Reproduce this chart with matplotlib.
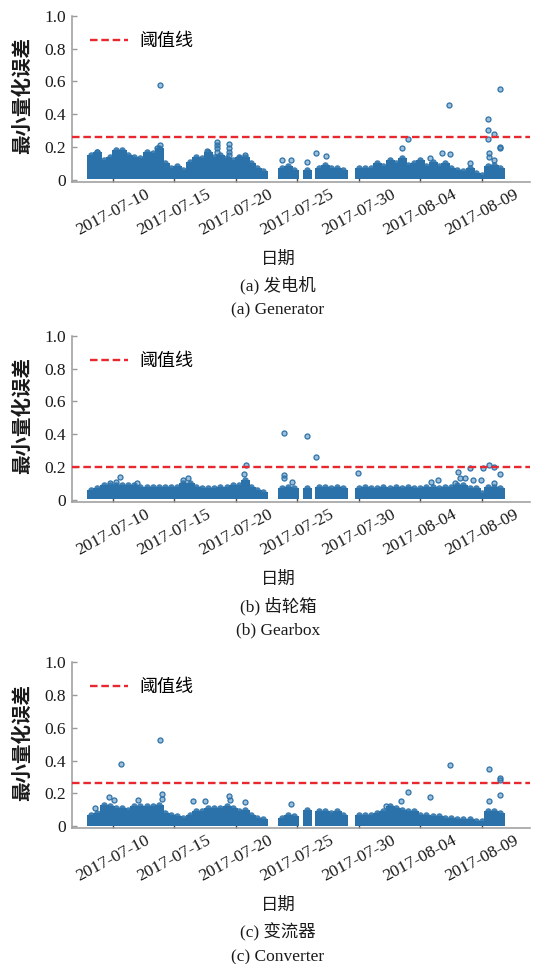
import pandas as pd
import matplotlib
matplotlib.use("Agg")
import matplotlib.pyplot as plt
import matplotlib.dates as mdates
from matplotlib.ticker import FixedLocator, FixedFormatter

plt.rcParams["font.family"] = ["Liberation Serif", "Noto Sans CJK SC"]

# ---------------------------------------------------------------------------
# Upper edge of the dense error band, one value every 12 hours, per block of
# continuous recording: (block start, [values ...])
# ---------------------------------------------------------------------------
gen_blocks = [
    ("2017-07-08 06:00", [0.15, 0.17, 0.12, 0.14, 0.18, 0.18, 0.15, 0.14, 0.13, 0.17,
                          0.16, 0.19, 0.10, 0.07, 0.08, 0.06, 0.11, 0.14, 0.13, 0.17,
                          0.14, 0.15, 0.13, 0.12, 0.14, 0.14, 0.10, 0.07, 0.05]),
    ("2017-07-23 18:00", [0.07, 0.08, 0.06]),
    ("2017-07-25 18:00", [0.06]),
    ("2017-07-26 18:00", [0.07, 0.09, 0.07, 0.07, 0.06]),
    ("2017-07-30 00:00", [0.07, 0.07, 0.07, 0.10, 0.08, 0.12, 0.10, 0.13, 0.09, 0.10,
                          0.12, 0.08, 0.11, 0.08, 0.10, 0.07, 0.06, 0.05, 0.07, 0.04,
                          0.03, 0.08, 0.09, 0.07]),
]
gen_out_t = ["2017-07-08 18:00", "2017-07-13 14:00", "2017-07-13 20:00", "2017-07-13 21:00",
             "2017-07-17 15:00", "2017-07-18 12:00", "2017-07-18 12:00", "2017-07-18 12:00",
             "2017-07-18 12:00", "2017-07-19 11:00", "2017-07-19 11:00", "2017-07-19 11:00",
             "2017-07-19 11:00", "2017-07-20 07:00", "2017-07-20 18:00", "2017-07-23 19:00",
             "2017-07-24 12:00", "2017-07-25 19:00", "2017-07-26 12:00", "2017-07-27 08:00",
             "2017-08-02 12:00", "2017-08-03 00:00", "2017-08-04 19:00", "2017-08-05 18:00",
             "2017-08-06 07:00", "2017-08-06 09:00", "2017-08-08 00:00", "2017-08-09 12:00",
             "2017-08-09 12:00", "2017-08-09 12:00", "2017-08-09 14:00", "2017-08-09 14:00",
             "2017-08-09 23:00", "2017-08-09 23:00", "2017-08-10 11:00", "2017-08-10 11:00",
             "2017-08-10 11:00"]
gen_out_v = [0.17, 0.19, 0.21, 0.575,
             0.175, 0.23, 0.21, 0.19,
             0.17, 0.22, 0.195, 0.17,
             0.15, 0.13, 0.15, 0.12,
             0.12, 0.11, 0.16, 0.145,
             0.195, 0.25, 0.13, 0.165,
             0.455, 0.155, 0.10, 0.37,
             0.30, 0.25, 0.16, 0.14,
             0.28, 0.12, 0.555, 0.20,
             0.19]
gen_threshold = 0.26

gear_blocks = [
    ("2017-07-08 06:00", [0.06, 0.07, 0.09, 0.09, 0.09, 0.09, 0.09, 0.09, 0.08, 0.08,
                          0.08, 0.08, 0.08, 0.08, 0.08, 0.10, 0.10, 0.08, 0.07, 0.07,
                          0.07, 0.08, 0.08, 0.09, 0.09, 0.12, 0.08, 0.06, 0.05]),
    ("2017-07-23 18:00", [0.07, 0.08, 0.07]),
    ("2017-07-25 18:00", [0.07]),
    ("2017-07-26 18:00", [0.08, 0.08, 0.07, 0.08, 0.07]),
    ("2017-07-30 00:00", [0.07, 0.08, 0.07, 0.07, 0.08, 0.07, 0.08, 0.07, 0.08, 0.07,
                          0.07, 0.08, 0.08, 0.07, 0.08, 0.08, 0.09, 0.09, 0.07, 0.07,
                          0.04, 0.08, 0.08, 0.07]),
]
gear_out_t = ["2017-07-23 22:00", "2017-07-23 22:00", "2017-07-23 22:00", "2017-07-25 18:00",
              "2017-07-26 12:00", "2017-07-24 14:00", "2017-07-29 22:00", "2017-07-09 19:00",
              "2017-07-10 07:00", "2017-07-10 14:00", "2017-07-12 00:00", "2017-07-15 17:00",
              "2017-07-16 02:00", "2017-07-20 17:00", "2017-07-20 20:00", "2017-08-04 21:00",
              "2017-08-05 10:00", "2017-08-06 19:00", "2017-08-07 02:00", "2017-08-07 05:00",
              "2017-08-07 16:00", "2017-08-08 00:00", "2017-08-08 07:00", "2017-08-08 22:00",
              "2017-08-09 02:00", "2017-08-09 14:00", "2017-08-09 23:00", "2017-08-09 23:00",
              "2017-08-10 12:00"]
gear_out_v = [0.405, 0.15, 0.13, 0.39,
              0.26, 0.11, 0.165, 0.10,
              0.11, 0.14, 0.10, 0.12,
              0.13, 0.16, 0.215, 0.11,
              0.12, 0.10, 0.17, 0.13,
              0.13, 0.195, 0.12, 0.12,
              0.195, 0.21, 0.20, 0.10,
              0.16]
gear_threshold = 0.20

conv_blocks = [
    ("2017-07-08 06:00", [0.07, 0.08, 0.13, 0.12, 0.11, 0.11, 0.10, 0.12, 0.12, 0.12,
                          0.12, 0.13, 0.08, 0.07, 0.06, 0.05, 0.07, 0.09, 0.09, 0.11,
                          0.11, 0.11, 0.12, 0.11, 0.09, 0.10, 0.07, 0.05, 0.04]),
    ("2017-07-23 18:00", [0.05, 0.07, 0.06]),
    ("2017-07-25 18:00", [0.10]),
    ("2017-07-26 18:00", [0.09, 0.09, 0.08, 0.09, 0.07]),
    ("2017-07-30 00:00", [0.07, 0.07, 0.07, 0.08, 0.09, 0.12, 0.11, 0.10, 0.09, 0.09,
                          0.07, 0.07, 0.06, 0.06, 0.05, 0.05, 0.04, 0.04, 0.04, 0.03,
                          0.03, 0.09, 0.09, 0.08]),
]
conv_out_t = ["2017-07-08 13:00", "2017-07-09 17:00", "2017-07-10 02:00", "2017-07-10 17:00",
              "2017-07-12 02:00", "2017-07-13 20:00", "2017-07-14 00:00", "2017-07-14 00:00",
              "2017-07-16 12:00", "2017-07-17 12:00", "2017-07-19 10:00", "2017-07-19 13:00",
              "2017-07-20 18:00", "2017-07-24 12:00", "2017-08-01 05:00", "2017-08-02 11:00",
              "2017-08-03 00:00", "2017-08-04 18:00", "2017-08-06 09:00", "2017-08-09 14:00",
              "2017-08-09 14:00", "2017-08-10 11:00", "2017-08-10 11:00", "2017-08-10 11:00"]
conv_out_v = [0.11, 0.18, 0.16, 0.38,
              0.16, 0.525, 0.195, 0.165,
              0.15, 0.15, 0.185, 0.16,
              0.145, 0.135, 0.125, 0.15,
              0.21, 0.18, 0.37, 0.35,
              0.15, 0.295, 0.28, 0.19]
conv_threshold = 0.26

tick_dates = ["2017-07-10", "2017-07-15", "2017-07-20", "2017-07-25",
              "2017-07-30", "2017-08-04", "2017-08-09"]
y_ticks = [0, 0.2, 0.4, 0.6, 0.8, 1.0]
y_ticklabels = ["0", "0.2", "0.4", "0.6", "0.8", "1.0"]
x_range = ("2017-07-06 15:30", "2017-08-12 22:00")

panels = [
    (gen_blocks, gen_out_t, gen_out_v, gen_threshold, "(a) 发电机", "(a) Generator"),
    (gear_blocks, gear_out_t, gear_out_v, gear_threshold, "(b) 齿轮箱", "(b) Gearbox"),
    (conv_blocks, conv_out_t, conv_out_v, conv_threshold, "(c) 变流器", "(c) Converter"),
]

BLUE = "#2c72aa"
RED = "#e8282e"
CJK = ["Noto Sans CJK SC", "DejaVu Sans"]


def to_num(stamps):
    return mdates.date2num(pd.to_datetime(stamps).to_pydatetime())


W, H = 536, 964
fig = plt.figure(figsize=(W / 100, H / 100), dpi=100)

ax_left, ax_right = 71.5, 530.0
ax_h = 165.7
tops = [15.8, 336.0, 662.3]

for (blocks, out_t, out_v, thr, cap_cn, cap_en), top in zip(panels, tops):
    ax = fig.add_axes([ax_left / W, 1 - (top + ax_h) / H,
                       (ax_right - ax_left) / W, ax_h / H])

    # dense band of errors
    for start, vals in blocks:
        t = to_num(pd.date_range(start, periods=len(vals), freq="12h"))
        ax.vlines(t, 0.008, vals, colors=BLUE, linewidth=5.2, capstyle="butt",
                  antialiased=False, zorder=2)
        ax.scatter(t, vals, s=22, color=BLUE, alpha=0.9, linewidths=0, zorder=2)

    # isolated points
    ax.scatter(to_num(out_t), out_v, s=13, facecolor=(0.17, 0.45, 0.67, 0.45),
               edgecolor=BLUE, linewidths=0.9, zorder=3)

    ax.axhline(thr, color=RED, linewidth=1.7, linestyle=(0, (3.2, 1.6)),
               label="阈值线", zorder=4)

    ax.set_xlim(to_num(list(x_range)))
    ax.set_ylim(-0.012, 1.0)

    ax.yaxis.set_major_locator(FixedLocator(y_ticks))
    ax.yaxis.set_major_formatter(FixedFormatter(y_ticklabels))
    ax.xaxis.set_major_locator(FixedLocator(to_num(tick_dates)))
    ax.xaxis.set_major_formatter(FixedFormatter(tick_dates))

    for side in ("top", "right"):
        ax.spines[side].set_visible(False)
    for side in ("left", "bottom"):
        ax.spines[side].set_color("#9a9a9a")
        ax.spines[side].set_linewidth(1.1)

    ax.tick_params(axis="y", direction="in", length=3.6, width=1.0, color="#9a9a9a",
                   labelsize=12.5, labelcolor="#1a1a1a", pad=4)
    ax.tick_params(axis="x", direction="in", length=3.0, width=1.0, color="#444444",
                   labelsize=12.5, labelcolor="#1a1a1a", pad=3.5)
    for lab in ax.get_xticklabels():
        lab.set_rotation(28)
        lab.set_horizontalalignment("center")

    ax.legend(loc="center left", bbox_to_anchor=(0.04, 0.848), frameon=False,
              borderpad=0, borderaxespad=0, handlelength=2.1, handletextpad=0.66,
              prop={"family": CJK, "size": 13})

    spine_y = top + ax_h
    fig.text(22 / W, 1 - (top + 80) / H, "最小量化误差", rotation=90, ha="center",
             va="center", fontsize=14, fontweight="bold", family=CJK, color="#1a1a1a")
    fig.text(278 / W, 1 - (spine_y + 77) / H, "日期", ha="center", va="center",
             fontsize=12.5, family=CJK, color="#1a1a1a")
    fig.text(278 / W, 1 - (spine_y + 104) / H, cap_cn, ha="center", va="center",
             fontsize=12.5, family=["Liberation Serif", "Noto Sans CJK SC"], color="#1a1a1a")
    fig.text(278 / W, 1 - (spine_y + 129) / H, cap_en, ha="center", va="center",
             fontsize=12.5, family="Liberation Serif", color="#1a1a1a")

fig.savefig("out.png", dpi=100, facecolor="white")
